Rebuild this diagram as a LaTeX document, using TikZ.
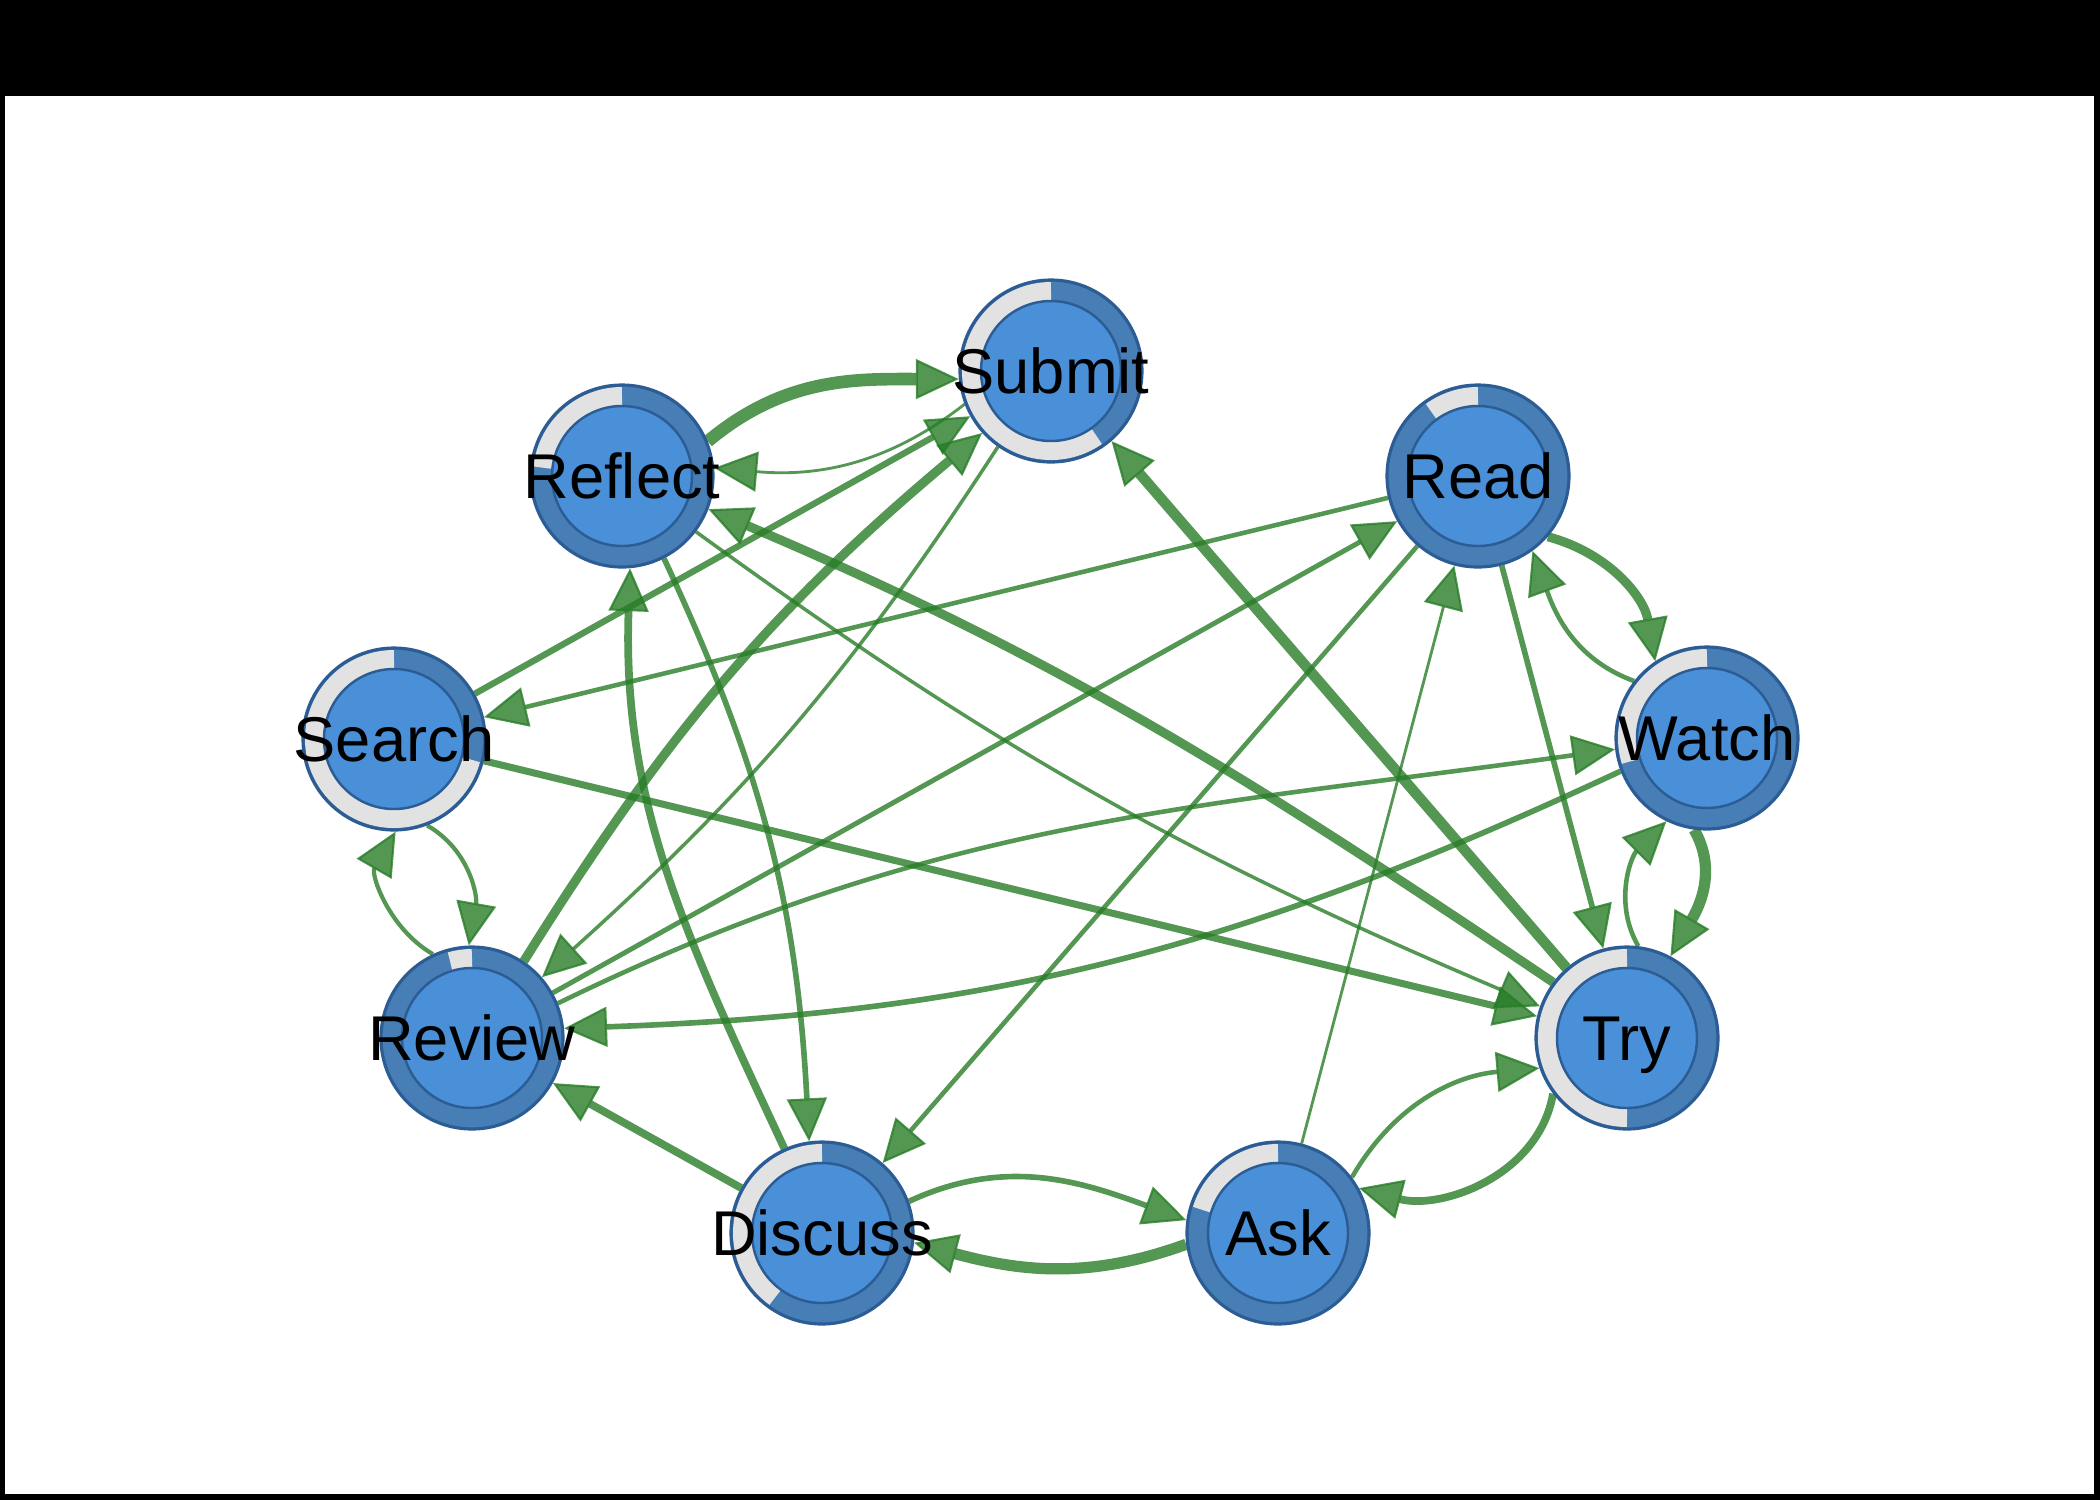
\documentclass[tikz,border=0pt]{standalone}
\usepackage{fontspec}
\setmainfont{Liberation Sans}
\usetikzlibrary{arrows.meta,backgrounds}

\definecolor{ringblue}{RGB}{70,126,181}
\definecolor{coreblue}{RGB}{74,144,217}
\definecolor{rimblue}{RGB}{44,92,148}
\definecolor{ringgrey}{RGB}{226,226,226}
\definecolor{linkgreen}{RGB}{40,125,40}

\tikzset{donut/.style={path picture={
  \draw[-,ringgrey,line width=0.19cm] (path picture bounding box.center) ++(90:0.795)
       arc[start angle=90,end angle=#1,radius=0.795];
  \draw[-,fill=coreblue,draw=rimblue,line width=0.7pt] (path picture bounding box.center) circle[radius=0.70];}}}

\begin{document}
\begin{tikzpicture}[->,>={Triangle[length=0.43cm,width=0.4cm,line width=0.6pt]},line join=round]
  \tikzstyle{topic}=[circle,minimum size=1.82cm,inner sep=0pt,fill=ringblue,draw=rimblue,line width=0.9pt]
  \tikzstyle{tag}=[font=\fontsize{18}{20}\selectfont,text height=12.9pt,text depth=0pt,inner sep=0pt,text=black]
  \tikzstyle{every edge}=[draw,color=linkgreen,opacity=0.8]

  \useasboundingbox (0,0) rectangle (21,-15);

  \node[topic,donut=305] (submit)  at (10.51,-3.71)  {};
  \node[topic,donut=174] (reflect) at (6.22,-4.76)   {};
  \node[topic,donut=126] (read)    at (14.78,-4.76)  {};
  \node[topic,donut=345] (search)  at (3.94,-7.39)   {};
  \node[topic,donut=197] (watch)   at (17.07,-7.38)  {};
  \node[topic,donut=106] (review)  at (4.72,-10.38)  {};
  \node[topic,donut=270] (try)     at (16.27,-10.38) {};
  \node[topic,donut=234] (discuss) at (8.22,-12.33)  {};
  \node[topic,donut=163] (ask)     at (12.78,-12.33) {};

  \node[tag] (submit-t)  at (submit)  {Submit};
  \node[tag] (reflect-t) at (reflect) {Reflect};
  \node[tag] (read-t)    at (read)    {Read};
  \node[tag] (search-t)  at (search)  {Search};
  \node[tag] (watch-t)   at (watch)   {Watch};
  \node[tag] (review-t)  at (review)  {Review};
  \node[tag] (try-t)     at (try)     {Try};
  \node[tag] (discuss-t) at (discuss) {Discuss};
  \node[tag] (ask-t)     at (ask)     {Ask};

  \begin{pgfonlayer}{background}
  \fill[-,black] (0,0) rectangle (21,-15);
  \fill[-,white] (0.05,-0.96) rectangle (20.94,-14.94);

  % straight links
  \path (search)  edge [line width=1.8pt] (submit)
                  edge [line width=2pt]   (try)
        (try)     edge [line width=3pt]   (submit)
        (read)    edge [line width=1.3pt] (search)
                  edge [line width=1.3pt] (discuss)
                  edge [line width=1.6pt] (try)
        (review)  edge [line width=1.4pt] (read)
        (ask)     edge [line width=0.8pt] (read)
        (discuss) edge [line width=2.2pt] (review);

  % curved links
  \path (reflect.22)  edge [out=40,in=180,line width=3.6pt]  (submit.185);
  \path (submit.201)  edge [out=218,in=355,line width=0.8pt] (reflect.5);
  \path (review.56)   edge [out=58,in=220,line width=2.6pt]  (submit.222);
  \path (submit.235)  edge [out=237,in=42,line width=1pt]    (review.41);
  \path (try.143)     edge [out=146,in=337,line width=2.6pt] (reflect.339);
  \path (reflect.323) edge [out=-36,in=157,line width=1pt]   (try.160);
  \path (read.319)    edge [out=-15,in=100,line width=2.6pt] (watch.124);
  \path (watch.142)   edge [out=160,in=290,line width=1.3pt] (read.306);
  \path (review.22)   edge [out=26,in=188,line width=1.3pt]  (watch.187);
  \path (watch.201)   edge [out=205,in=2,line width=1.6pt]   (review.6);
  \path (watch.262)   edge [out=-60,in=60,line width=3.2pt]  (try.62);
  \path (try.83)      edge [out=120,in=225,line width=1.3pt] (watch.244);
  \path (search.291)  edge [out=-30,in=80,line width=1.2pt]  (review.92);
  \path (review.115)  edge [out=150,in=240,line width=1.2pt] (search.271);
  \path (discuss.114) edge [out=115,in=268,line width=2.2pt] (reflect.275);
  \path (reflect.297) edge [out=-65,in=93,line width=1.6pt]  (discuss.98);
  \path (discuss.20)  edge [out=25,in=160,line width=1.6pt]  (ask.172);
  \path (ask.187)     edge [out=200,in=345,line width=3.2pt] (discuss.354);
  \path (ask.37)      edge [out=60,in=185,line width=1.3pt]  (try.199);
  \path (try.217)     edge [out=260,in=345,line width=2.2pt] (ask.29);
  \end{pgfonlayer}
\end{tikzpicture}
\end{document}
